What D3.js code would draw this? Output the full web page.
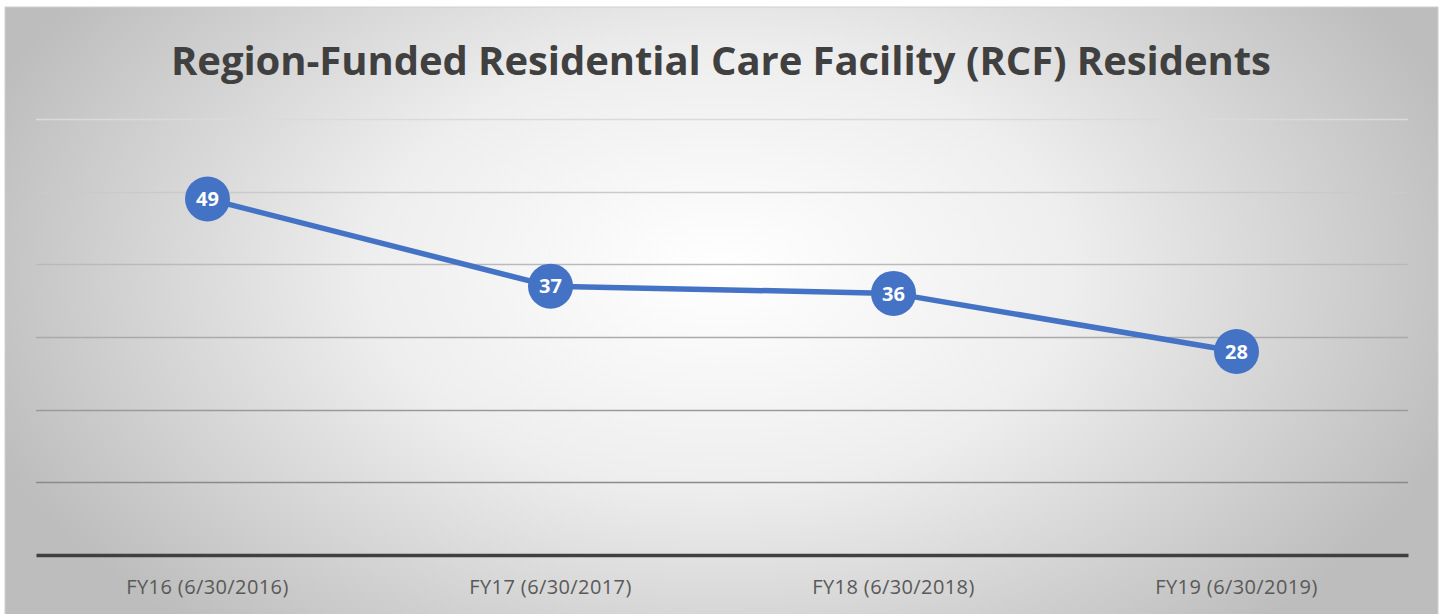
<!DOCTYPE html>
<html>
<head>
<meta charset="utf-8">
<script src="https://cdn.jsdelivr.net/npm/d3@7"></script>
<style>
  body { margin: 0; background: #fff; }
  svg { display: block; }
</style>
</head>
<body>
<svg id="chart" width="1442" height="614"></svg>
<script>
'use strict';

const categories = ['FY16 (6/30/2016)', 'FY17 (6/30/2017)', 'FY18 (6/30/2018)', 'FY19 (6/30/2019)'];
const residents = [49, 37, 36, 28];
const yTicks = [10, 20, 30, 40, 50, 60];
const title = 'Region-Funded Residential Care Facility (RCF) Residents';

const W = 1442;
const frame = { x: 5, y: 7, w: 1433, h: 610 };
const plot = { left: 36, right: 1408, top: 119, bottom: 555 };

const svg = d3.select('#chart');

// radial background like the office chart style
const defs = svg.append('defs');
const grad = defs.append('radialGradient')
    .attr('id', 'bg')
    .attr('gradientUnits', 'userSpaceOnUse')
    .attr('cx', 720).attr('cy', 270)
    .attr('r', 780)
    .attr('gradientTransform', 'translate(720 270) scale(1 0.62) translate(-720 -270)');
grad.append('stop').attr('offset', '0%').attr('stop-color', '#ffffff');
grad.append('stop').attr('offset', '45%').attr('stop-color', '#eeeeee');
grad.append('stop').attr('offset', '100%').attr('stop-color', '#bdbdbd');

svg.append('rect')
    .attr('x', frame.x).attr('y', frame.y)
    .attr('width', frame.w).attr('height', frame.h)
    .attr('fill', 'url(#bg)')
    .attr('stroke', '#d0d0d0')
    .attr('stroke-width', 1);

const x = d3.scaleBand()
    .domain(categories)
    .range([plot.left, plot.right]);

const y = d3.scaleLinear()
    .domain([0, 60])
    .range([plot.bottom, plot.top]);

// gridlines get darker toward the bottom
const gridColor = d3.scaleLinear()
    .domain([60, 10])
    .range(['#dadada', '#8a8a8a']);

svg.append('g')
    .selectAll('line')
    .data(yTicks)
    .enter()
    .append('line')
    .attr('x1', plot.left)
    .attr('x2', plot.right)
    .attr('y1', d => Math.round(y(d)) + 0.5)
    .attr('y2', d => Math.round(y(d)) + 0.5)
    .attr('stroke', d => gridColor(d))
    .attr('stroke-width', 1.5);

// x axis (baseline + labels)
const xAxis = svg.append('g')
    .attr('transform', `translate(0,${plot.bottom})`)
    .call(d3.axisBottom(x).tickSize(0).tickPadding(25));

xAxis.select('.domain')
    .attr('stroke', '#404040')
    .attr('stroke-width', 3.5);

xAxis.selectAll('text')
    .attr('fill', '#595959')
    .style('font-family', '"Open Sans", "Noto Sans", sans-serif')
    .style('font-size', '20px')
    .style('letter-spacing', '0.4px');

// title
svg.append('text')
    .attr('x', W / 2)
    .attr('y', 75)
    .attr('text-anchor', 'middle')
    .attr('fill', '#404040')
    .style('font-family', '"Open Sans", "Noto Sans", sans-serif')
    .style('font-weight', 700)
    .style('font-size', '40px')
    .attr('textLength', 1100)
    .attr('lengthAdjust', 'spacing')
    .text(title);

const cx = (d, i) => x(categories[i]) + x.bandwidth() / 2;

const line = d3.line()
    .x((d, i) => cx(d, i))
    .y(d => y(d));

svg.append('path')
    .datum(residents)
    .attr('d', line)
    .attr('fill', 'none')
    .attr('stroke', '#4472C4')
    .attr('stroke-width', 5.5)
    .attr('stroke-linejoin', 'round');

const pt = svg.append('g')
    .selectAll('g')
    .data(residents)
    .enter()
    .append('g')
    .attr('transform', (d, i) => `translate(${cx(d, i)},${y(d)})`);

pt.append('circle')
    .attr('r', 22.5)
    .attr('fill', '#4472C4');

pt.append('text')
    .attr('text-anchor', 'middle')
    .attr('dy', '0.36em')
    .attr('fill', '#ffffff')
    .style('font-family', '"Open Sans", "Noto Sans", sans-serif')
    .style('font-weight', 700)
    .style('font-size', '20px')
    .text(d => d);
</script>
</body>
</html>
